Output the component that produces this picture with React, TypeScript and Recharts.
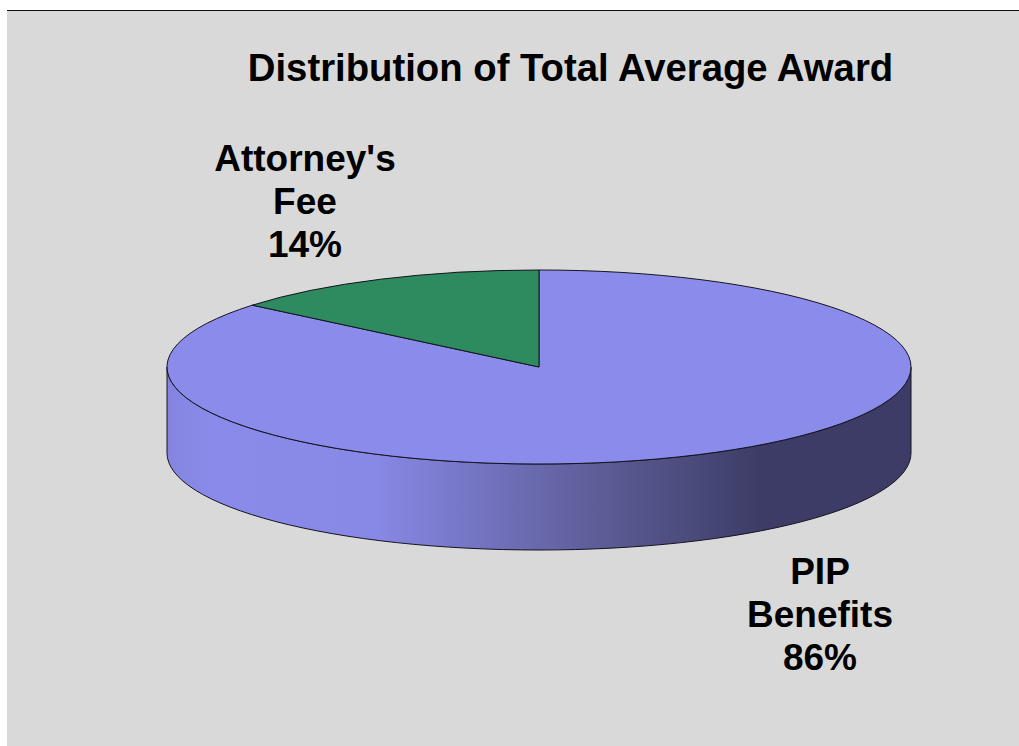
import { Pie, PieChart } from 'recharts';

const categories = ['PIP Benefits', "Attorney's Fee"];
const shares = [86, 14];
const labelLines = [['PIP', 'Benefits'], ["Attorney's", 'Fee']];
const sliceColors = ['#8b8bec', '#2e8b5f'];

const title = 'Distribution of Total Average Award';

const FONT = '"Liberation Sans", Arial, sans-serif';
const WIDTH = 1019;
const HEIGHT = 746;
const CX = 539;
const CY = 367;
const RX = 372;
const RY = 97;
const DEPTH = 86;
const LINE_HEIGHT = 43;
const labelPlaces = [
  { x: 820, y: 584 },
  { x: 305, y: 171 },
];

const chartData = categories.map((name, i) => ({
  name,
  value: shares[i],
  fill: sliceColors[i],
  lines: labelLines[i],
}));

const rad = (deg: number) => (deg * Math.PI) / 180;
const px = (cx: number, rx: number, deg: number) => cx + rx * Math.cos(rad(deg));
const py = (cy: number, ry: number, deg: number) => cy - ry * Math.sin(rad(deg));

// Recharts gives a circular sector, squash it to an ellipse for the tilted top
function TopSlice(props: any) {
  const { cx, cy, outerRadius, startAngle, endAngle, fill } = props;
  const ry = outerRadius * (RY / RX);
  const large = Math.abs(endAngle - startAngle) > 180 ? 1 : 0;
  const sweep = endAngle < startAngle ? 1 : 0;
  const d = [
    `M ${cx} ${cy}`,
    `L ${px(cx, outerRadius, startAngle)} ${py(cy, ry, startAngle)}`,
    `A ${outerRadius} ${ry} 0 ${large} ${sweep} ${px(cx, outerRadius, endAngle)} ${py(cy, ry, endAngle)}`,
    'Z',
  ].join(' ');
  return <path d={d} fill={fill} stroke="#14141f" strokeWidth={1} strokeLinejoin="round" />;
}

// side wall: only the part of the slice on the front half of the ellipse
function WallSlice(props: any) {
  const { cx, cy, outerRadius, startAngle, endAngle } = props;
  const ry = outerRadius * (RY / RX);
  const from = Math.min(startAngle, 0);
  const to = Math.max(endAngle, -180);
  if (from <= to) return <g />;
  const x0 = px(cx, outerRadius, from);
  const y0 = py(cy, ry, from);
  const x1 = px(cx, outerRadius, to);
  const y1 = py(cy, ry, to);
  const d = [
    `M ${x0} ${y0}`,
    `A ${outerRadius} ${ry} 0 0 1 ${x1} ${y1}`,
    `L ${x1} ${y1 + DEPTH}`,
    `A ${outerRadius} ${ry} 0 0 0 ${x0} ${y0 + DEPTH}`,
    'Z',
  ].join(' ');
  return <path d={d} fill="url(#wallShade)" stroke="#14141f" strokeWidth={1} />;
}

function SliceLabel(props: any) {
  const { index, lines, value } = props;
  const place = labelPlaces[index];
  const rows = [...lines, `${value}%`];
  return (
    <text
      x={place.x}
      y={place.y}
      textAnchor="middle"
      fontFamily={FONT}
      fontWeight="bold"
      fontSize={37}
      fill="#000"
    >
      {rows.map((row: string, i: number) => (
        <tspan key={row} x={place.x} y={place.y + i * LINE_HEIGHT}>
          {row}
        </tspan>
      ))}
    </text>
  );
}

export default function App() {
  return (
    <div style={{ position: 'absolute', left: 0, top: 0, width: WIDTH, height: HEIGHT, background: '#fff', overflow: 'hidden' }}>
      <div style={{ position: 'absolute', left: 7, top: 10, right: 0, bottom: 0, background: '#d9d9d9', borderTop: '1px solid #111' }} />
      <div style={{ position: 'absolute', left: 0, top: 0 }}>
        <PieChart width={WIDTH} height={HEIGHT} margin={{ top: 0, right: 0, bottom: 0, left: 0 }}>
          <defs>
            <linearGradient id="wallShade" x1="0" y1="0" x2="1" y2="0">
              <stop offset="0%" stopColor="#8484e0" />
              <stop offset="6%" stopColor="#8a8aea" />
              <stop offset="28%" stopColor="#8888e6" />
              <stop offset="50%" stopColor="#6868ac" />
              <stop offset="64%" stopColor="#54548a" />
              <stop offset="80%" stopColor="#3c3c66" />
              <stop offset="100%" stopColor="#3c3c66" />
            </linearGradient>
          </defs>
          <Pie
            data={chartData}
            dataKey="value"
            cx={CX}
            cy={CY}
            outerRadius={RX}
            startAngle={90}
            endAngle={-270}
            paddingAngle={0}
            shape={WallSlice}
            label={false}
            labelLine={false}
            isAnimationActive={false}
          />
          <Pie
            data={chartData}
            dataKey="value"
            cx={CX}
            cy={CY}
            outerRadius={RX}
            startAngle={90}
            endAngle={-270}
            paddingAngle={0}
            shape={TopSlice}
            label={SliceLabel}
            labelLine={false}
            isAnimationActive={false}
          />
          <text x={570.5} y={81} textAnchor="middle" fontFamily={FONT} fontWeight="bold" fontSize={38.3} fill="#000">
            {title}
          </text>
        </PieChart>
      </div>
    </div>
  );
}
